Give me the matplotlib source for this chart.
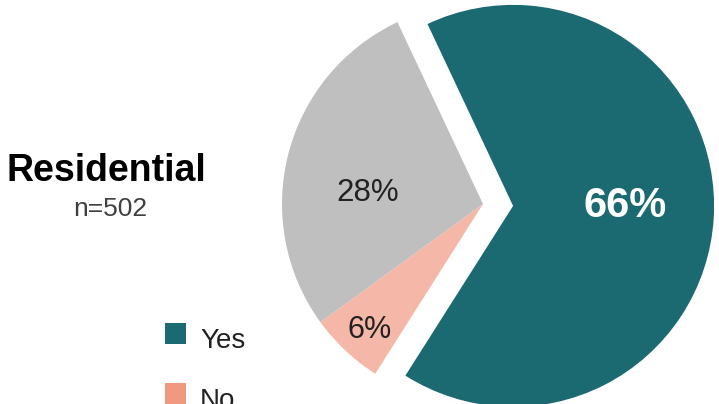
import matplotlib
matplotlib.use("Agg")
import matplotlib.pyplot as plt
from matplotlib.patches import Rectangle
import numpy as np

plt.rcParams['font.family'] = ['Liberation Sans', 'DejaVu Sans']

# Survey answers
categories = ["Yes", "No", "Don't know"]
shares = [66, 6, 28]
title = "Residential"
subtitle = "n=502"

slice_colors = ["#1b6a72", "#f5b8a8", "#bfbfbf"]
legend_colors = ["#1b6a72", "#f0997e", "#bfbfbf"]
label_colors = ["white", "#222222", "#222222"]
label_weights = ["bold", "normal", "normal"]
label_sizes = [30, 22, 22.5]
# radial distance and angular nudge for each percentage label
label_radius = [0.56, 0.83, 0.58]
label_nudge = [6.0, 0.5, 7.5]
explode = [0.15, 0, 0]

W, H = 719, 404
fig = plt.figure(figsize=(W / 100, H / 100), dpi=100)
ax = fig.add_axes([0, 0, 1, 1])
ax.set_axis_off()

# pie of radius 1 = 201 px, centred at (483, 200) px from bottom-left
R_PX = 201.0
cx, cy = 483.0, 200.0

total = sum(shares)
wedges, _ = ax.pie(shares, colors=slice_colors, explode=explode,
                   startangle=115.2, counterclock=False, radius=1.0,
                   wedgeprops=dict(linewidth=0))
ax.set_xlim(-cx / R_PX, (W - cx) / R_PX)
ax.set_ylim(-cy / R_PX, (H - cy) / R_PX)
ax.set_aspect('auto')

for w, v, r, nd, c, fw, fs in zip(wedges, shares, label_radius, label_nudge,
                                   label_colors, label_weights, label_sizes):
    mid = np.deg2rad((w.theta1 + w.theta2) / 2 + nd)
    x0, y0 = w.center
    ax.text(x0 + r * np.cos(mid), y0 + r * np.sin(mid),
            f"{round(100 * v / total)}%", color=c, fontweight=fw,
            fontsize=fs, ha='center', va='center_baseline')

# heading
fig.text(106 / W, 1 - 181 / H, title, fontsize=27, fontweight='bold',
         ha='center', va='baseline', color='black')
fig.text(110 / W, 1 - 216 / H, subtitle, fontsize=19, ha='center',
         va='baseline', color='#404040')

# legend
for i, (lab, col) in enumerate(zip(categories, legend_colors)):
    top = 323 + 60 * i
    fig.patches.append(Rectangle((165 / W, 1 - (top + 21) / H), 21 / W, 21 / H,
                                 transform=fig.transFigure, facecolor=col,
                                 edgecolor='none'))
    fig.text(200 / W, 1 - (top + 25) / H, lab, fontsize=20, ha='left',
             va='baseline', color='#222222')

fig.savefig("out.png", dpi=100)
